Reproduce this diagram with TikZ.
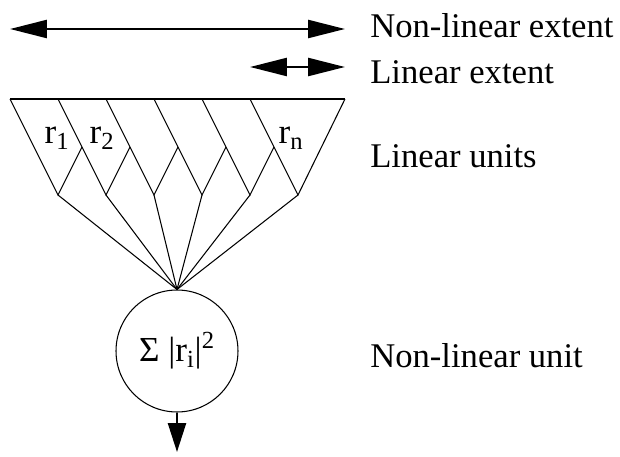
\documentclass[tikz,border=0pt]{standalone}
\usepackage{fontspec}
\setmainfont{Liberation Serif}
\usetikzlibrary{arrows.meta,calc}

\begin{document}
\begin{tikzpicture}[
  x=0.02cm, y=-0.02cm,
  wire/.style={line width=0.6pt},
  arrow/.style={{Triangle[length=0.74cm, width=0.36cm]}-{Triangle[length=0.74cm, width=0.36cm]}, line width=1.4pt},
  outarrow/.style={-{Triangle[length=0.58cm, width=0.36cm]}, line width=1.4pt},
  txt/.style={font=\fontsize{19.7}{22}\selectfont, anchor=base west, inner sep=0pt},
  rlabel/.style={font=\fontsize{20}{22}\selectfont, inner sep=0pt},
]
\useasboundingbox (0,0) rectangle (620,457);

% === Extents (top) ===
\coordinate (nlL) at (10,29);
\coordinate (nlR) at (345,29);
\coordinate (lL) at (250,67);
\coordinate (lR) at (345,67);
\draw[arrow] (nlL) -- (nlR);
\draw[arrow] (lL) -- (lR);

% === Linear units ===
\coordinate (tl) at (10,99);
\coordinate (tr) at (345,99);
\draw[wire] (tl) -- (tr);
\foreach \i in {0,...,5} {
  \coordinate (t\i) at (10+48*\i,99);
  \coordinate (b\i) at (58+48*\i,195);
}
\foreach \i in {0,...,4} {
  \pgfmathtruncatemacro{\j}{\i+1}
  \draw[wire] (t\i) -- (b\i) -- ($(t\j)!0.5!(b\j)$);
}
\draw[wire] (t5) -- (b5) -- (tr);

\node[rlabel] (r1) at (57,138) {r\textsubscript{1}};
\node[rlabel] (r2) at (102,138) {r\textsubscript{2}};
\node[rlabel] (rn) at (291,138) {r\textsubscript{n}};

% === Non-linear unit ===
\node[draw, wire, circle, minimum size=2.44cm, inner sep=0pt,
      font=\fontsize{20}{22}\selectfont] (sum) at (177,351) {Σ |r\textsubscript{i}|\textsuperscript{2}};
\foreach \i in {0,...,5}
  \draw[wire] (b\i) -- (sum.north);
\coordinate (out) at (177,452);
\draw[outarrow] (sum.south) -- (out);

% === Labels ===
\node[txt] (nlext) at (370,37) {Non-linear extent};
\node[txt] (lext) at (370,83) {Linear extent};
\node[txt] (lunits) at (370,167) {Linear units};
\node[txt] (nlunit) at (370,367) {Non-linear unit};

\end{tikzpicture}
\end{document}
